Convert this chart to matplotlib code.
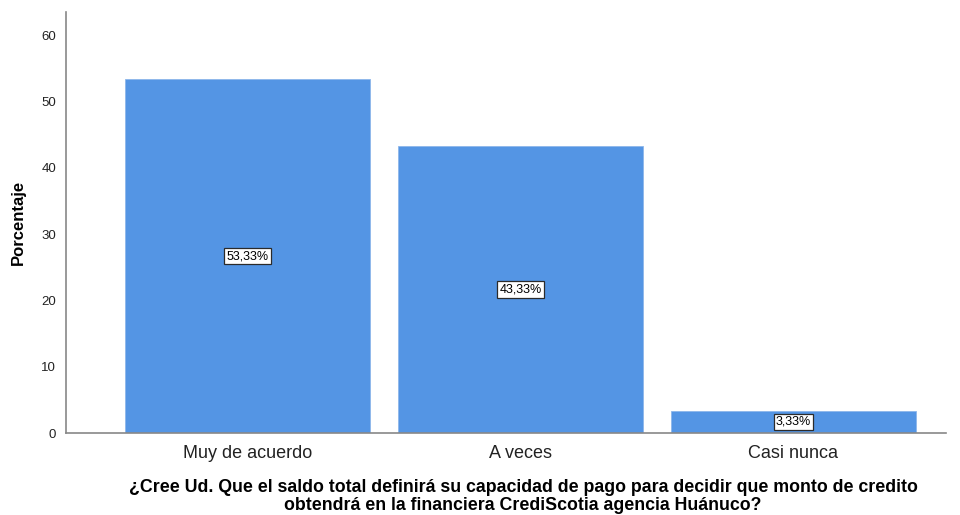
import numpy as np
import matplotlib.pyplot as plt

plt.rcParams['font.family'] = ['Liberation Sans', 'DejaVu Sans']

categorias = ['Muy de acuerdo', 'A veces', 'Casi nunca']
porcentajes = [53.33, 43.33, 3.33]
etiquetas = ['53,33%', '43,33%', '3,33%']
titulo = ['¿Cree Ud. Que el saldo total definirá su capacidad de pago para decidir que monto de credito',
          'obtendrá en la financiera CrediScotia agencia Huánuco?']

fig = plt.figure(figsize=(9.6, 5.15), dpi=100)
ax = fig.add_axes([66/960, 1-433/515, 880/960, 421/515])

x = np.arange(len(categorias))
bars = ax.bar(x, porcentajes, width=0.897, color='#5495e4', edgecolor='#8db6ea', linewidth=0.6)

for xi, v, t in zip(x, porcentajes, etiquetas):
    ax.text(xi, v/2, t, ha='center', va='center', fontsize=9,
            bbox=dict(boxstyle='square,pad=0.18', fc='white', ec='#2b2b2b', lw=0.9))

ax.set_xlim(-0.665, 2.559)
ax.set_ylim(0, 63.5)
ax.set_yticks([0, 10, 20, 30, 40, 50, 60])
ax.set_xticks(x)
ax.set_xticklabels(categorias, fontsize=13, color='#222222')
ax.tick_params(axis='y', length=0, pad=7, labelsize=9.5, labelcolor='#222222')
ax.tick_params(axis='x', length=0, pad=9)

for s in ['top', 'right']:
    ax.spines[s].set_visible(False)
ax.spines['left'].set_color('#888888')
ax.spines['bottom'].set_color('#888888')
ax.spines['left'].set_linewidth(1.2)
ax.spines['bottom'].set_linewidth(1.2)

fig.text(18/960, 1-222/515, 'Porcentaje', rotation=90, ha='center', va='center',
         fontsize=12, fontweight='bold')
for yy, linea in zip([488, 505], titulo):
    fig.text(523/960, 1-yy/515, linea, ha='center', va='center',
             fontsize=12.8, fontweight='bold')

fig.savefig('out.png', dpi=100)
